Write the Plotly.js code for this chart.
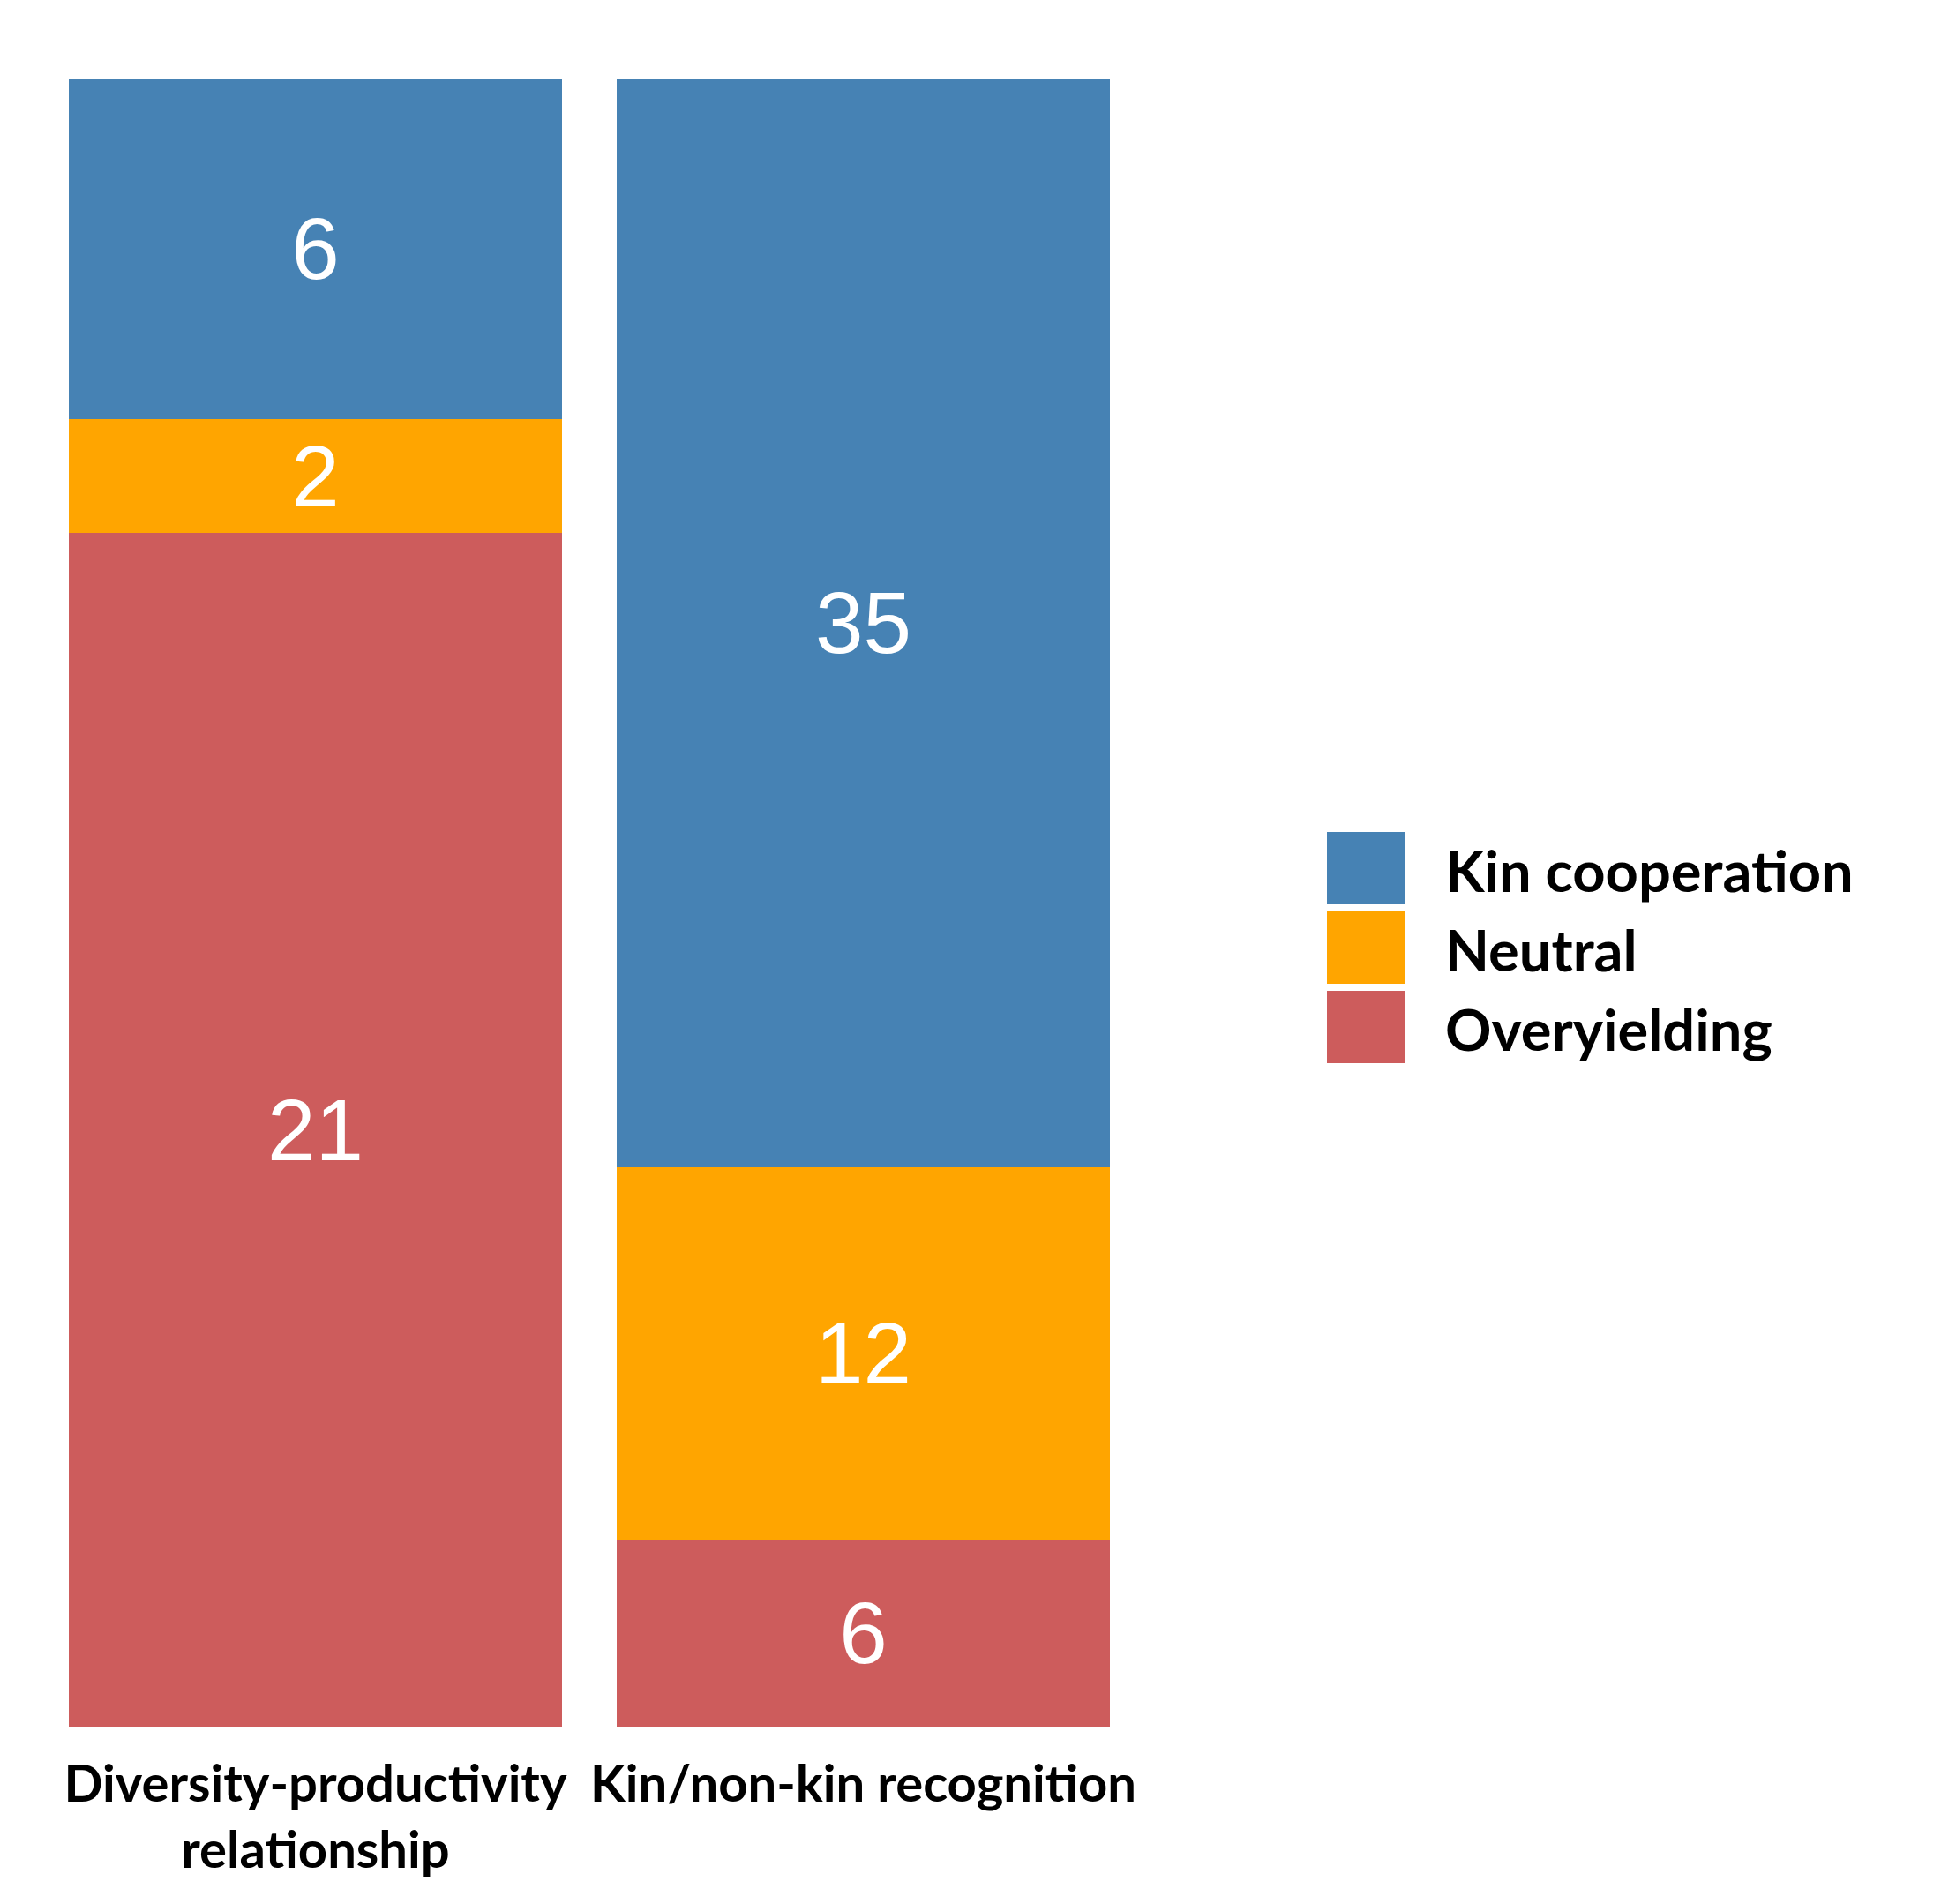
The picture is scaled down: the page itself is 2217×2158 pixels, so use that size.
<!DOCTYPE html>
<html>
<head>
<meta charset="utf-8">
<script src="https://cdn.plot.ly/plotly-3.0.1.min.js"></script>
<style>
  html, body { margin: 0; padding: 0; background: #ffffff; }
  #chart { width: 2217px; height: 2158px; }
</style>
</head>
<body>
<div id="chart"></div>
<script>
// categories and counts per outcome
const categories = ["Diversity-productivity<br>relationship", "Kin/non-kin recognition"]
const seriesNames = ["Overyielding", "Neutral", "Kin cooperation"]
const overyielding = [21, 6]
const neutral = [2, 12]
const kinCooperation = [6, 35]
const seriesColors = ["#CD5C5C", "#FFA500", "#4682B4"]

const seriesValues = [overyielding, neutral, kinCooperation]

const traces = seriesValues.map((values, i) => ({
    type: 'bar',
    name: seriesNames[i],
    x: categories,
    y: values,
    text: values.map(String),
    textposition: 'inside',
    insidetextanchor: 'middle',
    constraintext: 'none',
    textangle: 0,
    textfont: {family: 'Liberation Sans, Arial, sans-serif', size: 98, color: '#ffffff'},
    marker: {color: seriesColors[i], line: {width: 0}},
    hoverinfo: 'skip',
    showlegend: false
}))

// custom legend, top entry first (Kin cooperation, Neutral, Overyielding)
const plotLeft = 47, plotWidth = 1242, plotBottom = 1957, plotHeight = 1868
const px = (x) => (x - plotLeft) / plotWidth
const py = (y) => (plotBottom - y) / plotHeight

const legendOrder = [2, 1, 0]
const shapes = []
const annotations = []
legendOrder.forEach((s, row) => {
    const top = 943 + row * 90
    shapes.push({
        type: 'rect', xref: 'paper', yref: 'paper',
        x0: px(1504), x1: px(1592), y0: py(top + 82), y1: py(top),
        fillcolor: seriesColors[s], line: {width: 0}
    })
    annotations.push({
        xref: 'paper', yref: 'paper',
        x: px(1636), y: py(top + 43),
        xanchor: 'left', yanchor: 'middle',
        text: '<b>' + seriesNames[s] + '</b>',
        showarrow: false,
        font: {family: 'Lato, sans-serif', size: 65, color: '#000000'}
    })
})

const layout = {
    width: 2217,
    height: 2158,
    margin: {l: plotLeft, r: 2217 - plotLeft - plotWidth, t: plotBottom - plotHeight, b: 2158 - plotBottom},
    paper_bgcolor: '#ffffff',
    plot_bgcolor: '#ffffff',
    barmode: 'stack',
    barnorm: 'percent',
    bargap: 0.1,
    showlegend: false,
    xaxis: {
        type: 'category',
        showgrid: false,
        zeroline: false,
        showline: false,
        ticks: '',
        ticklabelstandoff: 26,
        tickfont: {family: 'Lato, sans-serif', size: 58, color: '#000000', weight: 'bold'}
    },
    yaxis: {
        range: [0, 100],
        showgrid: false,
        zeroline: false,
        showline: false,
        showticklabels: false,
        ticks: ''
    },
    shapes: shapes,
    annotations: annotations
}

Plotly.newPlot('chart', traces, layout, {staticPlot: true})
</script>
</body>
</html>
